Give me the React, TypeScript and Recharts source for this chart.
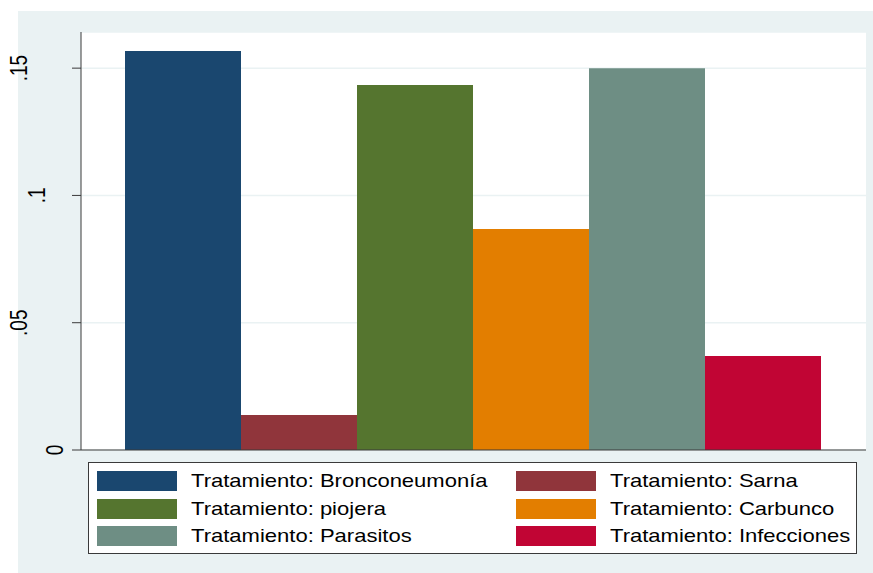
import { BarChart, Bar, XAxis, YAxis, CartesianGrid, ReferenceLine } from "recharts";

// Series (one bar each, single category)
const seriesKeys = ["bronco", "sarna", "piojera", "carbunco", "parasitos", "infecciones"];
const seriesNames = [
  "Tratamiento: Bronconeumonía",
  "Tratamiento: Sarna",
  "Tratamiento: piojera",
  "Tratamiento: Carbunco",
  "Tratamiento: Parasitos",
  "Tratamiento: Infecciones",
];
const seriesValues = [0.1567, 0.0137, 0.1434, 0.0868, 0.15, 0.0369];
const seriesColors = ["#1a476f", "#90353b", "#55752f", "#e37e00", "#6e8e84", "#c10534"];

const yTicks = [0, 0.05, 0.1, 0.15];
const yTickLabels = ["0", ".05", ".1", ".15"];

const row: Record<string, number | string> = { grupo: "all" };
seriesKeys.forEach((k, i) => {
  row[k] = seriesValues[i];
});
const data = [row];

const FONT = '"Liberation Sans", Arial, Helvetica, sans-serif';
const AXIS = "#3a3a3a";

// rotated tick label, stata style (reads bottom to top)
function YTick(props: any) {
  const { x, y, index } = props;
  const label = yTickLabels[index] ?? "";
  const bx = x - 7 - (label.length - 1) * 18;
  return (
    <text
      transform={`translate(${bx},${y}) rotate(-90) scale(1,1.25)`}
      textAnchor="middle"
      fontSize={19}
      fontFamily={FONT}
      fill="#000"
    >
      {label}
    </text>
  );
}

function LegendBox() {
  return (
    <div
      style={{
        position: "absolute",
        left: 88,
        top: 462,
        width: 769,
        height: 92,
        boxSizing: "border-box",
        border: `1px solid ${AXIS}`,
        background: "#fff",
      }}
    >
      {seriesNames.map((name, i) => {
        const col = i % 2;
        const r = Math.floor(i / 2);
        return (
          <div
            key={name}
            style={{ position: "absolute", left: 8 + col * 419, top: 8 + r * 27.5, height: 20, width: 400 }}
          >
            <div style={{ position: "absolute", left: 0, top: 0, width: 80, height: 20, background: seriesColors[i] }} />
            <div
              style={{
                position: "absolute",
                left: 94,
                top: -2,
                lineHeight: "24px",
                fontSize: 18.5,
                fontFamily: FONT,
                color: "#000",
                whiteSpace: "nowrap",
                transform: "scaleX(1.19)",
                transformOrigin: "left center",
              }}
            >
              {name}
            </div>
          </div>
        );
      })}
    </div>
  );
}

export default function App() {
  return (
    <div style={{ position: "absolute", left: 0, top: 0, width: 873, height: 573, background: "#fff", overflow: "hidden" }}>
      <div style={{ position: "absolute", left: 18, top: 11, right: 0, bottom: 0, background: "#eaf2f3" }} />
      <div style={{ position: "absolute", left: 0, top: 0 }}>
        <BarChart
          width={873}
          height={573}
          data={data}
          margin={{ top: 32, right: 7, bottom: 123, left: 21 }}
          barCategoryGap={44}
          barGap={0}
        >
          <CartesianGrid vertical={false} stroke="#eaf2f3" strokeWidth={1.5} fill="#ffffff" fillOpacity={1} />
          <XAxis dataKey="grupo" type="category" hide />
          <YAxis
            width={60}
            domain={[0, 0.1642]}
            ticks={yTicks}
            interval={0}
            tickSize={9}
            tickMargin={2}
            axisLine={{ stroke: AXIS }}
            tickLine={{ stroke: AXIS }}
            tick={<YTick />}
          />
          {seriesKeys.map((k, i) => (
            <Bar key={k} dataKey={k} name={seriesNames[i]} fill={seriesColors[i]} isAnimationActive={false} />
          ))}
          <ReferenceLine y={0} stroke={AXIS} />
        </BarChart>
      </div>
      <LegendBox />
    </div>
  );
}
